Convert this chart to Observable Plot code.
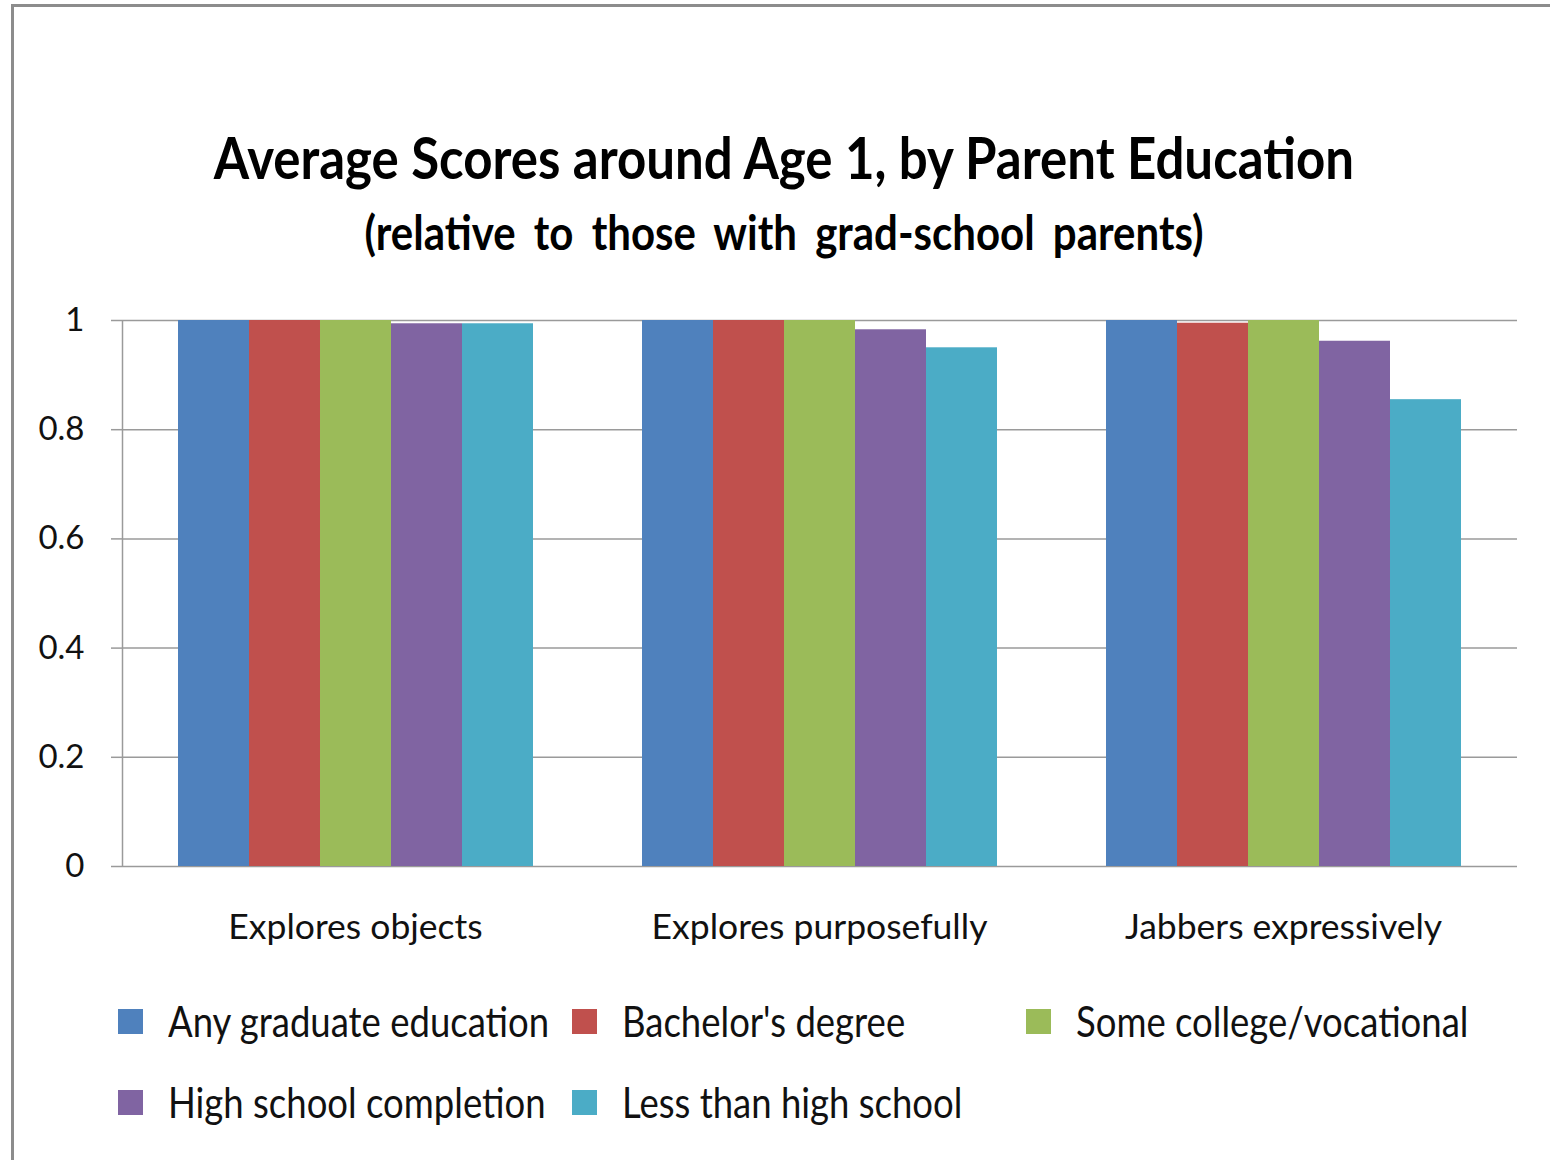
<!DOCTYPE html>
<html>
<head>
<meta charset="utf-8">
<script src="https://cdn.jsdelivr.net/npm/d3@7"></script>
<script src="https://cdn.jsdelivr.net/npm/@observablehq/plot@0.6"></script>
<style>
  html, body { margin: 0; padding: 0; background: white; width: 1550px; height: 1160px; overflow: hidden; }
  body { position: relative; font-family: Lato, "Open Sans", sans-serif; }
  #border { position: absolute; left: 11px; top: 4px; width: 1700px; height: 1300px; border: 3px solid #8c8c8c; }
  #title { position: absolute; left: 0; width: 1568px; top: 128px; text-align: center; font-weight: bold; font-size: 51px; line-height: 60px; transform: scaleY(1.12); color: #000; }
  #subtitle { position: absolute; left: 0; width: 1568px; top: 202px; text-align: center; font-weight: bold; font-size: 42px; line-height: 60px; word-spacing: 8px; transform: scaleY(1.12); color: #000; }
  #chart { position: absolute; left: 0; top: 280px; width: 1550px; height: 690px; }
  #chart svg { position: absolute; left: 0; top: 0; }
  #legend { position: absolute; left: 118px; top: 997px; width: 1420px; display: flex; flex-wrap: wrap; }
  .item { width: 454px; height: 81px; display: flex; align-items: flex-start; }
  .sw { width: 25px; height: 25px; margin-top: 12px; flex: none; }
  .lab { margin-left: 25px; font-size: 36.5px; line-height: 48px; transform: scaleY(1.15); color: #111; white-space: nowrap; }
</style>
</head>
<body>
<div id="border"></div>
<div id="title">Average Scores around Age 1, by Parent Education</div>
<div id="subtitle">(relative to those with grad-school parents)</div>
<div id="chart"></div>
<div id="legend"></div>
<script>
const groups = ["Explores objects", "Explores purposefully", "Jabbers expressively"];
const series = ["Any graduate education", "Bachelor's degree", "Some college/vocational", "High school completion", "Less than high school"];
const colors = ["#4F81BD", "#C0504D", "#9BBB59", "#8064A2", "#4BACC6"];
const anyGraduate = [1.000, 1.000, 1.000];
const bachelors = [1.000, 1.000, 0.995];
const someCollege = [1.000, 1.000, 1.000];
const highSchool = [0.994, 0.983, 0.962];
const lessThanHS = [0.994, 0.950, 0.855];
const yTicks = [0, 0.2, 0.4, 0.6, 0.8, 1];

const seriesValues = [anyGraduate, bachelors, someCollege, highSchool, lessThanHS];
const data = [];
groups.forEach((g, gi) => series.forEach((s, si) => data.push({group: g, series: s, value: seriesValues[si][gi]})));

const dims = {width: 1550, height: 690, marginLeft: 122, marginRight: 33, marginTop: 40, marginBottom: 104};

const back = Plot.plot({
  ...dims,
  style: {fontFamily: "Lato, sans-serif", background: "transparent"},
  x: {domain: [0, 1], axis: null},
  y: {domain: [0, 1]},
  marks: [
    Plot.ruleY(yTicks, {stroke: "#9a9a9a", strokeWidth: 1.5}),
    Plot.ruleX([0], {stroke: "#9a9a9a", strokeWidth: 1.5}),
    Plot.axisY({ticks: yTicks, tickSize: 11, tickPadding: 27, stroke: "#9a9a9a", strokeWidth: 1.5, fill: "#111", fontSize: 33, tickFormat: d => String(d), label: null})
  ]
});

const bars = Plot.plot({
  ...dims,
  style: {fontFamily: "Lato, sans-serif", background: "transparent"},
  fx: {domain: groups, paddingInner: 0.232, paddingOuter: 0.118, label: null},
  x: {domain: series, padding: 0, axis: null},
  y: {domain: [0, 1], axis: null},
  color: {domain: series, range: colors},
  marks: [
    Plot.barY(data, {fx: "group", x: "series", y: "value", fill: "series", inset: 0}),
    Plot.axisFx({anchor: "bottom", tickSize: 0, tickPadding: 47, fontSize: 35.5, fill: "#111", label: null})
  ]
});

const chart = document.getElementById("chart");
chart.appendChild(back);
chart.appendChild(bars);

const legend = document.getElementById("legend");
series.forEach((s, i) => {
  const item = document.createElement("div");
  item.className = "item";
  const sw = document.createElement("div");
  sw.className = "sw";
  sw.style.background = colors[i];
  const lab = document.createElement("div");
  lab.className = "lab";
  lab.textContent = s;
  item.appendChild(sw);
  item.appendChild(lab);
  legend.appendChild(item);
});
</script>
</body>
</html>
